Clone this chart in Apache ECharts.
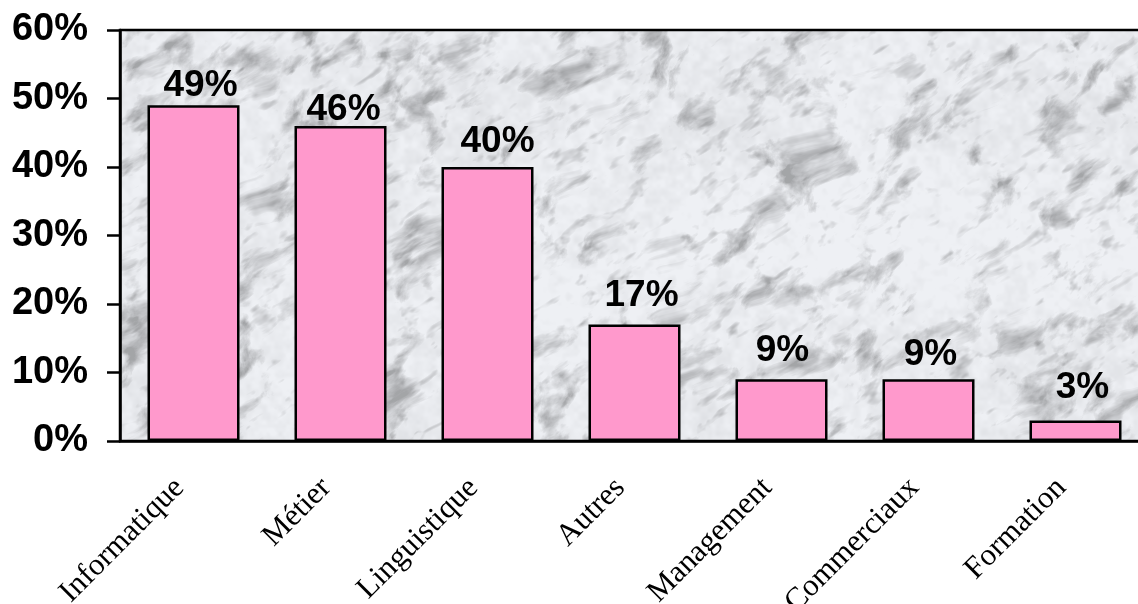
<!DOCTYPE html>
<html>
<head>
<meta charset="utf-8">
<title>Domaines de formation</title>
<script src="https://cdn.jsdelivr.net/npm/echarts@6/dist/echarts.min.js"></script>
<style>
  html, body { margin: 0; padding: 0; background: #fff; }
  #chart { width: 1138px; height: 604px; }
</style>
</head>
<body>
<div id="chart"></div>
<script>
// Categories and their shares (percent)
const categories = ['Informatique', 'Métier', 'Linguistique', 'Autres', 'Management', 'Commerciaux', 'Formation'];
const shares = [49, 46, 40, 17, 9, 9, 3];

// Value axis range and step (percent)
const axisMin = 0;
const axisMax = 60;
const axisStep = 10;

// Small per-bar nudges for the value labels [dx, dy] in pixels
const labelNudge = [[7, -1], [3, 2], [10, -7], [7, -10], [1, -10], [2, -6], [7, -14]];

const W = 1138, H = 604;

// Procedural light grey marble texture for the plotting area
function makeMarble(w, h) {
  const c = document.createElement('canvas');
  c.width = w; c.height = h;
  const ctx = c.getContext('2d');
  const img = ctx.createImageData(w, h);
  const d = img.data;

  function hash(ix, iy, s) {
    let n = Math.imul(ix, 374761393) ^ Math.imul(iy, 668265263) ^ Math.imul(s, 1442695041);
    n = Math.imul(n ^ (n >>> 13), 1274126177);
    n = n ^ (n >>> 16);
    return (n >>> 0) / 4294967295;
  }
  function noise(x, y, s) {
    const ix = Math.floor(x), iy = Math.floor(y);
    const fx = x - ix, fy = y - iy;
    const sx = fx * fx * (3 - 2 * fx), sy = fy * fy * (3 - 2 * fy);
    const a = hash(ix, iy, s), b = hash(ix + 1, iy, s), c2 = hash(ix, iy + 1, s), e = hash(ix + 1, iy + 1, s);
    return a + (b - a) * sx + (c2 - a) * sy + (a - b - c2 + e) * sx * sy;
  }
  function fbm(x, y, oct, s) {
    let sum = 0, amp = 0.5, f = 1, norm = 0;
    for (let i = 0; i < oct; i++) {
      sum += amp * noise(x * f, y * f, s + i * 17);
      norm += amp; f *= 2.03; amp *= 0.5;
    }
    return sum / norm;
  }

  const th = 35 * Math.PI / 180;
  const ca = Math.cos(th), sa = Math.sin(th);
  for (let y = 0; y < h; y++) {
    for (let x = 0; x < w; x++) {
      // coordinates along / across the up-right grain
      const u = x * ca - y * sa;
      const v = x * sa + y * ca;
      const warp = fbm(x / 70, y / 70, 3, 5);
      const cloud = fbm(x / 120, y / 120, 4, 11);
      const blot = fbm(u / 34 + warp * 2, v / 18 + warp * 1.5, 5, 31);
      const grain = fbm(u / 20 + warp * 2.5, v / 9 + warp, 3, 23);
      const mid = fbm(x / 8, y / 8, 2, 61);

      let b = 0.975 + (cloud - 0.5) * 0.08;
      const p = Math.max(0, 0.45 - blot);
      b -= p * 0.95;
      const g = Math.max(0, 0.37 - grain);
      b -= g * 0.7;
      b += (mid - 0.5) * 0.07;
      b = Math.min(0.99, Math.max(0.68, b));

      const i = (y * w + x) * 4;
      d[i] = Math.round(b * 240);
      d[i + 1] = Math.round(b * 242);
      d[i + 2] = Math.round(b * 246);
      d[i + 3] = 255;
    }
  }
  ctx.putImageData(img, 0, 0);
  return c;
}

const marble = makeMarble(W, H);

const chart = echarts.init(document.getElementById('chart'), null, { renderer: 'canvas' });

const barData = shares.map((v, i) => ({
  value: v,
  label: { offset: labelNudge[i] }
}));

chart.setOption({
  animation: false,
  backgroundColor: '#ffffff',
  grid: {
    show: true,
    left: 120,
    top: 30,
    width: 1029,
    height: 411,
    outerBoundsMode: 'none',
    containLabel: false,
    backgroundColor: { image: marble, repeat: 'repeat' },
    borderColor: '#000',
    borderWidth: 2.5
  },
  xAxis: {
    type: 'category',
    data: categories,
    axisLine: { show: true, lineStyle: { color: '#000', width: 2.5 } },
    axisTick: { show: false },
    axisLabel: {
      rotate: 45,
      margin: 28,
      padding: [0, 20, 0, 0],
      color: '#000',
      fontFamily: '"Liberation Serif", "Times New Roman", serif',
      fontSize: 31,
      interval: 0
    },
    splitLine: { show: false }
  },
  yAxis: {
    type: 'value',
    min: axisMin,
    max: axisMax,
    interval: axisStep,
    axisLine: { show: true, lineStyle: { color: '#000', width: 2.5 } },
    axisTick: { show: true, inside: false, length: 13, lineStyle: { color: '#000', width: 2.5 } },
    axisLabel: {
      formatter: '{value}%',
      margin: 32,
      color: '#000',
      fontFamily: '"Liberation Sans", Arial, sans-serif',
      fontWeight: 'bold',
      fontSize: 38
    },
    splitLine: { show: false }
  },
  series: [{
    type: 'bar',
    data: barData,
    barWidth: 92,
    itemStyle: { color: '#FF99CC', borderColor: '#000', borderWidth: 2.5 },
    label: {
      show: true,
      position: 'top',
      distance: 0,
      formatter: '{c}%',
      color: '#000',
      fontFamily: '"Liberation Sans", Arial, sans-serif',
      fontWeight: 'bold',
      fontSize: 37
    }
  }]
});
</script>
</body>
</html>
